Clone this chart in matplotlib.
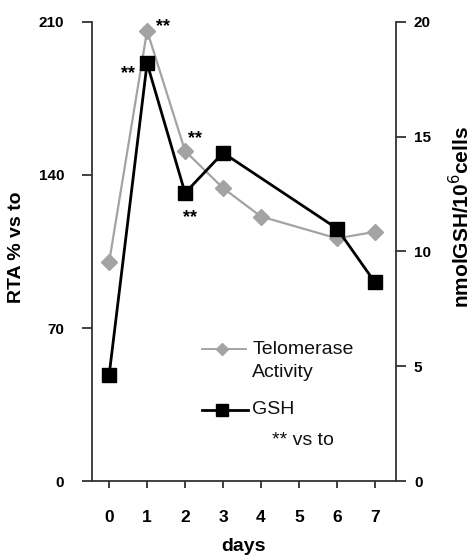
import numpy as np
import matplotlib.pyplot as plt

plt.rcParams['font.family'] = ['Liberation Sans', 'DejaVu Sans']

# days after treatment
days = [0, 1, 2, 3, 4, 6, 7]
# relative telomerase activity (% vs t0), left axis
rta = [100, 206, 151, 134, 121, 111, 114]
# GSH content (nmol/10^6 cells), right axis
gsh_days = [0, 1, 2, 3, 6, 7]
gsh = [4.6, 18.2, 12.55, 14.3, 11.0, 8.65]

xticks = [0, 1, 2, 3, 4, 5, 6, 7]
lticks = [0, 70, 140, 210]
rticks = [0, 5, 10, 15, 20]

gray = "#a3a3a3"

fig = plt.figure(figsize=(4.73, 5.55), dpi=100)
ax = fig.add_axes([0.1945, 0.1333, 0.6425, 0.8271])
ax2 = ax.twinx()

ax.plot(days, rta, color=gray, lw=1.6, marker="D", ms=8, mfc=gray, mec=gray,
        zorder=3)
ax2.plot(gsh_days, gsh, color="black", lw=2.0, marker="s", ms=10, zorder=4)

ax.set_xlim(-0.45, 7.55)
ax.set_ylim(0, 210)
ax2.set_ylim(0, 20)
ax.set_xticks(xticks)
ax.set_yticks(lticks)
ax2.set_yticks(rticks)

for a in (ax, ax2):
    a.spines['top'].set_visible(False)
    for s in a.spines.values():
        s.set_linewidth(1.3)
        s.set_color("#333333")
ax.spines['right'].set_visible(False)
ax2.spines['left'].set_visible(False)
ax2.spines['bottom'].set_visible(False)

ax.tick_params(axis='y', direction='out', length=7, width=1.3, pad=13,
               labelsize=11, colors="#333333")
ax2.tick_params(axis='y', direction='out', length=7, width=1.3, pad=6,
                labelsize=11, colors="#333333")
ax.tick_params(axis='x', direction='out', length=5, width=1.3, pad=16,
               labelsize=12.5, colors="#333333")
for lab in ax.get_yticklabels() + ax2.get_yticklabels() + ax.get_xticklabels():
    lab.set_fontweight('bold')
    lab.set_color('black')

ax.set_xlabel("days", fontsize=14, fontweight='bold')
ax.xaxis.set_label_coords(0.5, -0.125)
ax.set_ylabel("RTA % vs to", fontsize=14, fontweight='bold')
ax.yaxis.set_label_coords(-0.22, 0.51)
ax2.set_ylabel("nmolGSH/10$^{6}$cells", fontsize=15, fontweight='bold')
ax2.yaxis.set_label_coords(1.17, 0.575)

# significance marks, offsets in points from each data point
sig = dict(textcoords='offset points', fontsize=13, fontweight='bold',
           ha='center', va='baseline')
ax.annotate("**", (days[1], rta[1]), xytext=(11.5, -0.5), **sig)
ax2.annotate("**", (gsh_days[1], gsh[1]), xytext=(-13.5, -10.5), **sig)
ax.annotate("**", (days[2], rta[2]), xytext=(7.5, 5.5), **sig)
ax2.annotate("**", (gsh_days[2], gsh[2]), xytext=(3.5, -21), **sig)

# legend drawn by hand
ax.plot([2.45, 3.6], [60.5, 60.5], color=gray, lw=1.4)
ax.plot([2.98], [60.5], marker="D", color=gray, ms=6)
ax.text(3.77, 64, "Telomerase\nActivity", fontsize=14, va='top',
        ha='left', linespacing=1.45, color="#111111")
ax.plot([2.45, 3.65], [32.5, 32.5], color="black", lw=2)
ax.plot([2.97], [32.5], marker="s", color="black", ms=8)
ax.text(3.77, 32.5, "GSH", fontsize=14, va='center', ha='left',
        color="#111111")
ax.text(4.3, 18.5, "** vs to", fontsize=14, va='center', ha='left',
        color="#111111")

fig.savefig("out.png", dpi=100)
